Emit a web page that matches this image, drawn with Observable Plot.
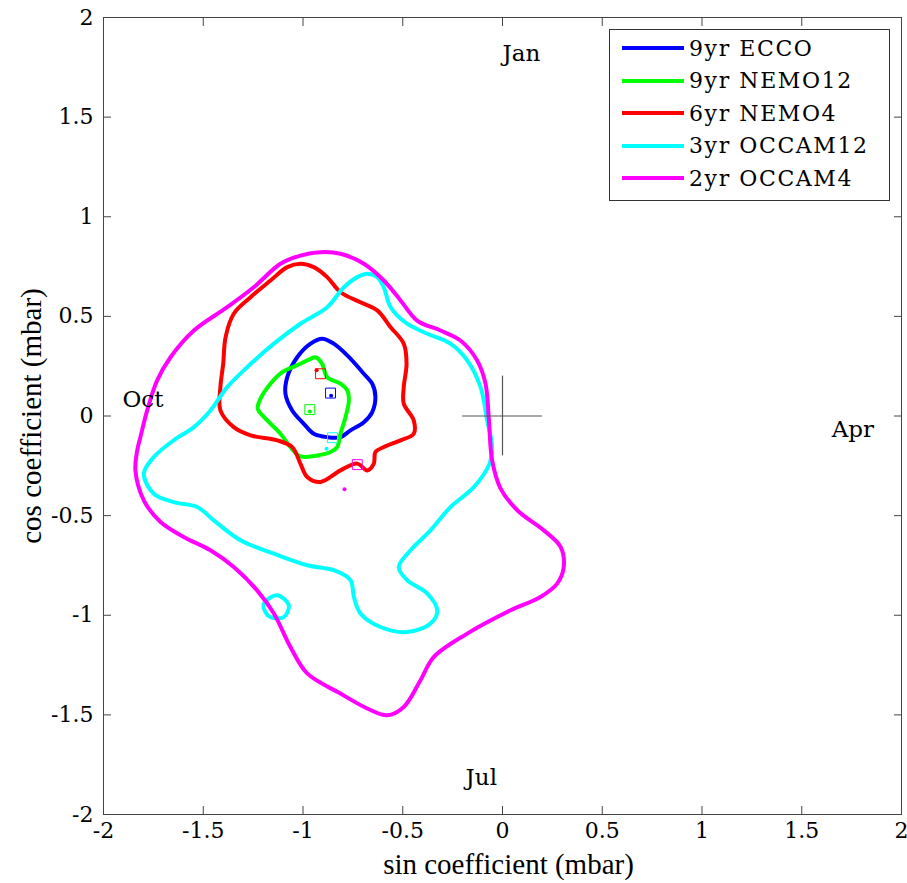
<!DOCTYPE html>
<html><head><meta charset="utf-8">
<script src="https://cdn.jsdelivr.net/npm/d3@7"></script>
<script src="https://cdn.jsdelivr.net/npm/@observablehq/plot@0.6"></script>
<style>
body{margin:0;background:#fff;}
#wrap{position:relative;width:907px;height:883px;}
#legend{position:absolute;left:609px;top:29px;width:279px;height:170px;border:1px solid #333;background:#fff;font-family:"DejaVu Serif";font-size:22px;letter-spacing:1.6px;color:#000;}
.row{position:absolute;left:0;height:32px;display:flex;align-items:center;white-space:nowrap;}
.sw{display:inline-block;width:62px;height:4px;margin-left:12px;margin-right:5px;}
</style></head><body><div id="wrap"></div>
<script>
// ---- data ----
const seriesNames = ["9yr ECCO", "9yr NEMO12", "6yr NEMO4", "3yr OCCAM12", "2yr OCCAM4"];
const seriesColors = ["#0000ff", "#00ff00", "#ff0000", "#00ffff", "#ff00ff"];
const tickValues = [-2, -1.5, -1, -0.5, 0, 0.5, 1, 1.5, 2];
const xLabel = "sin coefficient (mbar)";
const yLabel = "cos coefficient (mbar)";

const eccoContour = [[-0.904,0.388],[-0.846,0.363],[-0.778,0.304],[-0.695,0.212],[-0.653,0.162],[-0.637,0.095],[-0.653,0.020],[-0.695,-0.031],[-0.762,-0.072],[-0.812,-0.106],[-0.879,-0.106],[-0.946,-0.089],[-0.996,-0.039],[-1.054,0.028],[-1.088,0.112],[-1.079,0.195],[-1.029,0.295],[-0.962,0.363]];
const nemo12Contour = [[-0.937,0.295],[-0.904,0.262],[-0.879,0.195],[-0.812,0.162],[-0.778,0.128],[-0.770,0.078],[-0.787,-0.006],[-0.812,-0.089],[-0.829,-0.156],[-0.862,-0.181],[-0.929,-0.198],[-1.013,-0.203],[-1.063,-0.156],[-1.113,-0.089],[-1.179,-0.022],[-1.227,0.037],[-1.213,0.087],[-1.163,0.162],[-1.104,0.220],[-1.013,0.262],[-0.962,0.287]];
const nemo4Contour = [[-1.013,0.764],[-0.946,0.747],[-0.879,0.697],[-0.812,0.621],[-0.712,0.571],[-0.628,0.530],[-0.561,0.446],[-0.495,0.363],[-0.481,0.262],[-0.495,0.145],[-0.495,0.062],[-0.445,-0.022],[-0.445,-0.089],[-0.511,-0.122],[-0.595,-0.156],[-0.637,-0.181],[-0.645,-0.239],[-0.678,-0.273],[-0.728,-0.239],[-0.812,-0.273],[-0.912,-0.331],[-0.979,-0.306],[-1.013,-0.239],[-1.054,-0.156],[-1.129,-0.122],[-1.263,-0.097],[-1.347,-0.056],[-1.414,0.028],[-1.414,0.145],[-1.400,0.262],[-1.388,0.396],[-1.347,0.513],[-1.263,0.596],[-1.163,0.680],[-1.079,0.747]];
const occam12Contour = [[-0.678,0.714],[-0.628,0.697],[-0.595,0.646],[-0.561,0.546],[-0.478,0.463],[-0.377,0.413],[-0.261,0.363],[-0.177,0.279],[-0.110,0.145],[-0.077,-0.022],[-0.052,-0.156],[-0.065,-0.239],[-0.144,-0.357],[-0.261,-0.457],[-0.361,-0.574],[-0.461,-0.674],[-0.520,-0.758],[-0.478,-0.824],[-0.377,-0.891],[-0.327,-0.975],[-0.361,-1.042],[-0.478,-1.084],[-0.612,-1.059],[-0.712,-0.991],[-0.745,-0.908],[-0.762,-0.824],[-0.846,-0.774],[-0.979,-0.749],[-1.146,-0.691],[-1.313,-0.624],[-1.447,-0.524],[-1.530,-0.457],[-1.648,-0.432],[-1.748,-0.390],[-1.798,-0.289],[-1.748,-0.206],[-1.648,-0.122],[-1.547,-0.056],[-1.464,0.028],[-1.380,0.145],[-1.280,0.245],[-1.146,0.363],[-1.013,0.463],[-0.879,0.546],[-0.795,0.646],[-0.728,0.697]];
const occam12Islet = [[-1.196,-0.941],[-1.129,-0.900],[-1.071,-0.950],[-1.096,-1.009],[-1.163,-1.009],[-1.188,-0.985]];
const occam4Contour = [[-0.912,0.822],[-0.812,0.814],[-0.695,0.764],[-0.595,0.680],[-0.511,0.580],[-0.428,0.479],[-0.311,0.429],[-0.211,0.379],[-0.127,0.279],[-0.085,0.162],[-0.069,-0.006],[-0.052,-0.223],[-0.010,-0.363],[0.074,-0.473],[0.207,-0.574],[0.291,-0.657],[0.307,-0.758],[0.274,-0.841],[0.190,-0.908],[0.040,-0.975],[-0.177,-1.092],[-0.344,-1.209],[-0.411,-1.326],[-0.495,-1.460],[-0.578,-1.502],[-0.678,-1.468],[-0.812,-1.393],[-0.979,-1.292],[-1.063,-1.159],[-1.146,-0.991],[-1.230,-0.875],[-1.347,-0.758],[-1.464,-0.674],[-1.598,-0.607],[-1.714,-0.532],[-1.798,-0.423],[-1.840,-0.273],[-1.831,-0.173],[-1.815,-0.106],[-1.781,0.028],[-1.731,0.179],[-1.664,0.295],[-1.547,0.429],[-1.380,0.546],[-1.247,0.646],[-1.113,0.764],[-1.013,0.805]];

// open squares (one per series, same order as seriesNames)
const squareX = [-0.862, -0.966, -0.912, -0.852, -0.728];
const squareY = [0.115, 0.032, 0.212, -0.109, -0.244];
// small filled points
const pointX = [-0.859, -0.966, -0.932, -0.882, -0.792];
const pointY = [0.102, 0.022, 0.229, -0.164, -0.368];

const monthNames = ["Jan", "Apr", "Jul", "Oct"];
const monthX = [0.0, 1.65, -0.185, -1.905];
const monthY = [1.82, -0.07, -1.815, 0.08];
const crossHalf = 0.2;

// ---- build tables ----
const contourParts = [
  {series: seriesNames[0], pts: eccoContour},
  {series: seriesNames[1], pts: nemo12Contour},
  {series: seriesNames[2], pts: nemo4Contour},
  {series: seriesNames[3], pts: occam12Contour},
  {series: seriesNames[3], pts: occam12Islet},
  {series: seriesNames[4], pts: occam4Contour}
];
const lineRows = [];
contourParts.forEach((p, i) => p.pts.forEach(([x, y]) => lineRows.push({series: p.series, part: i, x, y})));
const squares = seriesNames.map((s, i) => ({series: s, x: squareX[i], y: squareY[i]}));
const points = seriesNames.map((s, i) => ({series: s, x: pointX[i], y: pointY[i]}));
const months = monthNames.map((m, i) => ({m, x: monthX[i], y: monthY[i]}));
const fmt = d => String(d);
const axisColor = "#444";

const chart = Plot.plot({
  width: 907, height: 883,
  marginLeft: 103, marginRight: 6, marginTop: 17, marginBottom: 69,
  x: {domain: [-2, 2], label: null},
  y: {domain: [-2, 2], label: null},
  color: {domain: seriesNames, range: seriesColors},
  style: {fontFamily: "DejaVu Serif", fontSize: "22px", color: "#000", background: "#fff", overflow: "visible"},
  marks: [
    Plot.line(lineRows, {x: "x", y: "y", z: "part", stroke: "series", strokeWidth: 4, curve: "catmull-rom-closed"}),
    Plot.ruleY([0], {x1: -crossHalf, x2: crossHalf, stroke: "#555", strokeWidth: 1.2}),
    Plot.ruleX([0], {y1: -crossHalf, y2: crossHalf, stroke: "#555", strokeWidth: 1.2}),
    Plot.dot(squares, {x: "x", y: "y", stroke: "series", symbol: "square", r: 5.6, strokeWidth: 1}),
    Plot.dot(points, {x: "x", y: "y", fill: "series", r: 2, stroke: null}),
    Plot.text(months, {x: "x", y: "y", text: "m", textAnchor: "start", fontFamily: "DejaVu Serif", fontSize: 23}),
    Plot.frame({stroke: axisColor}),
    Plot.axisX({ticks: tickValues, tickSize: 0, tickPadding: 8, tickFormat: fmt, label: null}),
    Plot.axisX({ticks: tickValues, anchor: "bottom", tickSize: -8, fill: "none", stroke: axisColor, label: null}),
    Plot.axisX({ticks: tickValues, anchor: "top", tickSize: -8, fill: "none", stroke: axisColor, label: null}),
    Plot.axisY({ticks: tickValues, tickSize: 0, tickPadding: 10, tickFormat: fmt, label: null}),
    Plot.axisY({ticks: tickValues, anchor: "left", tickSize: -8, fill: "none", stroke: axisColor, label: null}),
    Plot.axisY({ticks: tickValues, anchor: "right", tickSize: -8, fill: "none", stroke: axisColor, label: null}),
    Plot.text([xLabel], {frameAnchor: "bottom", textAnchor: "middle", dy: 59, dx: 6, fontFamily: "Liberation Serif", fontSize: 29}),
    Plot.text([yLabel], {frameAnchor: "left", textAnchor: "middle", lineAnchor: "middle", rotate: -90, dx: -72, fontFamily: "Liberation Serif", fontSize: 29})
  ]
});
const wrap = document.getElementById("wrap");
wrap.appendChild(chart);

// legend
const legend = document.createElement("div");
legend.id = "legend";
seriesNames.forEach((s, i) => {
  const row = document.createElement("div");
  row.className = "row";
  row.style.top = (2 + i * 32.5) + "px";
  const sw = document.createElement("span");
  sw.className = "sw";
  sw.style.background = seriesColors[i];
  const t = document.createElement("span");
  t.textContent = s;
  row.appendChild(sw); row.appendChild(t);
  legend.appendChild(row);
});
wrap.appendChild(legend);
</script></body></html>
